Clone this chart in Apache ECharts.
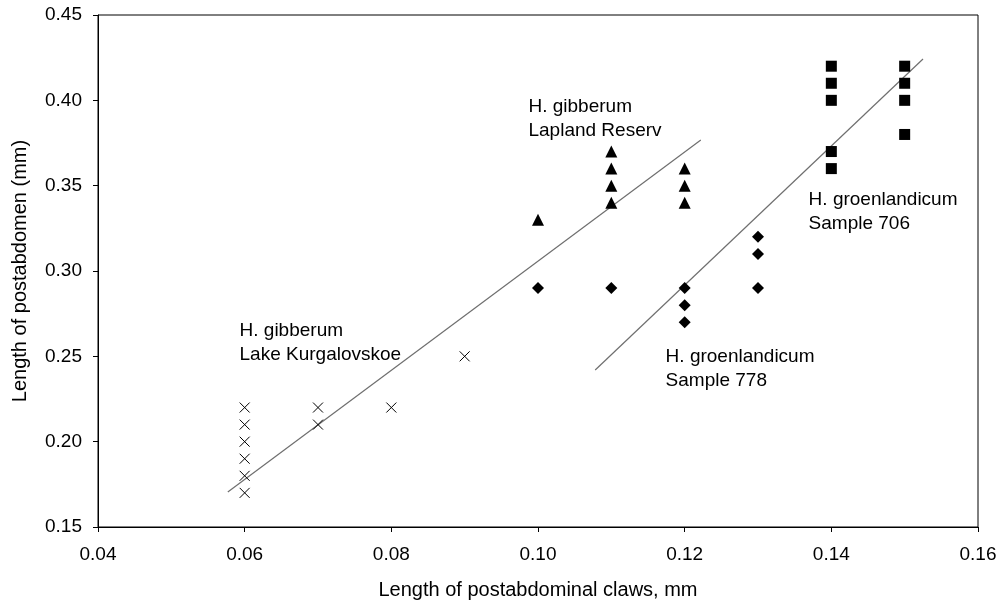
<!DOCTYPE html>
<html>
<head>
<meta charset="utf-8">
<script src="https://cdn.jsdelivr.net/npm/echarts@6/dist/echarts.min.js"></script>
<style>
  html, body { margin: 0; padding: 0; background: #fff; }
  #chart { width: 997px; height: 603px; }
</style>
</head>
<body>
<div id="chart"></div>
<script>
// H. gibberum, Lake Kurgalovskoe (crosses)
const kurgalovskoe = [
    [0.06, 0.17], [0.06, 0.18], [0.06, 0.19], [0.06, 0.20], [0.06, 0.21], [0.06, 0.22],
    [0.07, 0.21], [0.07, 0.22],
    [0.08, 0.22],
    [0.09, 0.25]
];
// H. gibberum, Lapland Reserv (triangles)
const lapland = [
    [0.10, 0.33],
    [0.11, 0.34], [0.11, 0.35], [0.11, 0.36], [0.11, 0.37],
    [0.12, 0.34], [0.12, 0.35], [0.12, 0.36]
];
// H. groenlandicum, Sample 778 (diamonds)
const sample778 = [
    [0.10, 0.29],
    [0.11, 0.29],
    [0.12, 0.27], [0.12, 0.28], [0.12, 0.29],
    [0.13, 0.29], [0.13, 0.31], [0.13, 0.32]
];
// H. groenlandicum, Sample 706 (squares)
const sample706 = [
    [0.14, 0.36], [0.14, 0.37], [0.14, 0.40], [0.14, 0.41], [0.14, 0.42],
    [0.15, 0.38], [0.15, 0.40], [0.15, 0.41], [0.15, 0.42]
];

// trend lines (end points)
const gibberumLine = [[0.0577, 0.1705], [0.1222, 0.3768]];
const groenlandicumLine = [[0.1078, 0.2420], [0.1525, 0.4242]];

// annotation text, anchored at the top-left corner
const notes = [
    { value: [0.0593, 0.2718], text: 'H. gibberum\nLake Kurgalovskoe' },
    { value: [0.0987, 0.4035], text: 'H. gibberum\nLapland Reserv' },
    { value: [0.1174, 0.2570], text: 'H. groenlandicum\nSample 778' },
    { value: [0.1369, 0.3490], text: 'H. groenlandicum\nSample 706' }
];

const FONT = 'Liberation Sans, Arial, sans-serif';

const chart = echarts.init(document.getElementById('chart'));

function markerSeries(data, symbol, size, stroke) {
    return {
        type: 'scatter',
        data: data,
        symbol: symbol,
        symbolSize: size,
        itemStyle: stroke
            ? { color: 'transparent', borderColor: '#000', borderWidth: 1, opacity: 1 }
            : { color: '#000', opacity: 1 },
        z: 3
    };
}

function trendSeries(data) {
    return {
        type: 'line',
        data: data,
        symbol: 'none',
        lineStyle: { color: '#6f6f6f', width: 1.2 },
        z: 2
    };
}

chart.setOption({
    backgroundColor: '#fff',
    animation: false,
    grid: {
        left: 98, right: 19, top: 15, bottom: 76,
        containLabel: false,
        outerBoundsMode: 'none',
        show: true, borderColor: '#000', borderWidth: 1
    },
    xAxis: {
        type: 'value',
        min: 0.04,
        max: 0.16,
        interval: 0.02,
        name: 'Length of postabdominal claws, mm',
        nameLocation: 'middle',
        nameGap: 53,
        nameTextStyle: { fontFamily: FONT, fontSize: 20, color: '#000' },
        axisLine: { show: true, onZero: false, lineStyle: { color: '#000' } },
        axisTick: { show: true, length: 5, lineStyle: { color: '#000' } },
        axisLabel: {
            fontFamily: FONT, fontSize: 19, color: '#000', margin: 18,
            formatter: v => v.toFixed(2)
        },
        splitLine: { show: false }
    },
    yAxis: {
        type: 'value',
        min: 0.15,
        max: 0.45,
        interval: 0.05,
        name: 'Length of postabdomen (mm)',
        nameLocation: 'middle',
        nameGap: 68,
        nameTextStyle: { fontFamily: FONT, fontSize: 20, color: '#000' },
        axisLine: { show: true, onZero: false, lineStyle: { color: '#000' } },
        axisTick: { show: true, length: 5, lineStyle: { color: '#000' } },
        axisLabel: {
            fontFamily: FONT, fontSize: 19, color: '#000', margin: 16,
            formatter: v => v.toFixed(2)
        },
        splitLine: { show: false }
    },
    series: [
        trendSeries(gibberumLine),
        trendSeries(groenlandicumLine),
        markerSeries(kurgalovskoe, 'path://M0,0L10,10M10,0L0,10', 10, true),
        markerSeries(lapland, 'triangle', 12, false),
        markerSeries(sample778, 'diamond', 12, false),
        markerSeries(sample706, 'rect', 11, false),
        {
            type: 'scatter',
            data: notes.map(n => ({ value: n.value, text: n.text })),
            symbolSize: 0,
            silent: true,
            itemStyle: { opacity: 1 },
            label: {
                show: true,
                position: [0, 0],
                align: 'left',
                verticalAlign: 'top',
                fontFamily: FONT,
                fontSize: 19,
                lineHeight: 24,
                color: '#000',
                formatter: p => p.data.text
            }
        }
    ]
});
</script>
</body>
</html>
